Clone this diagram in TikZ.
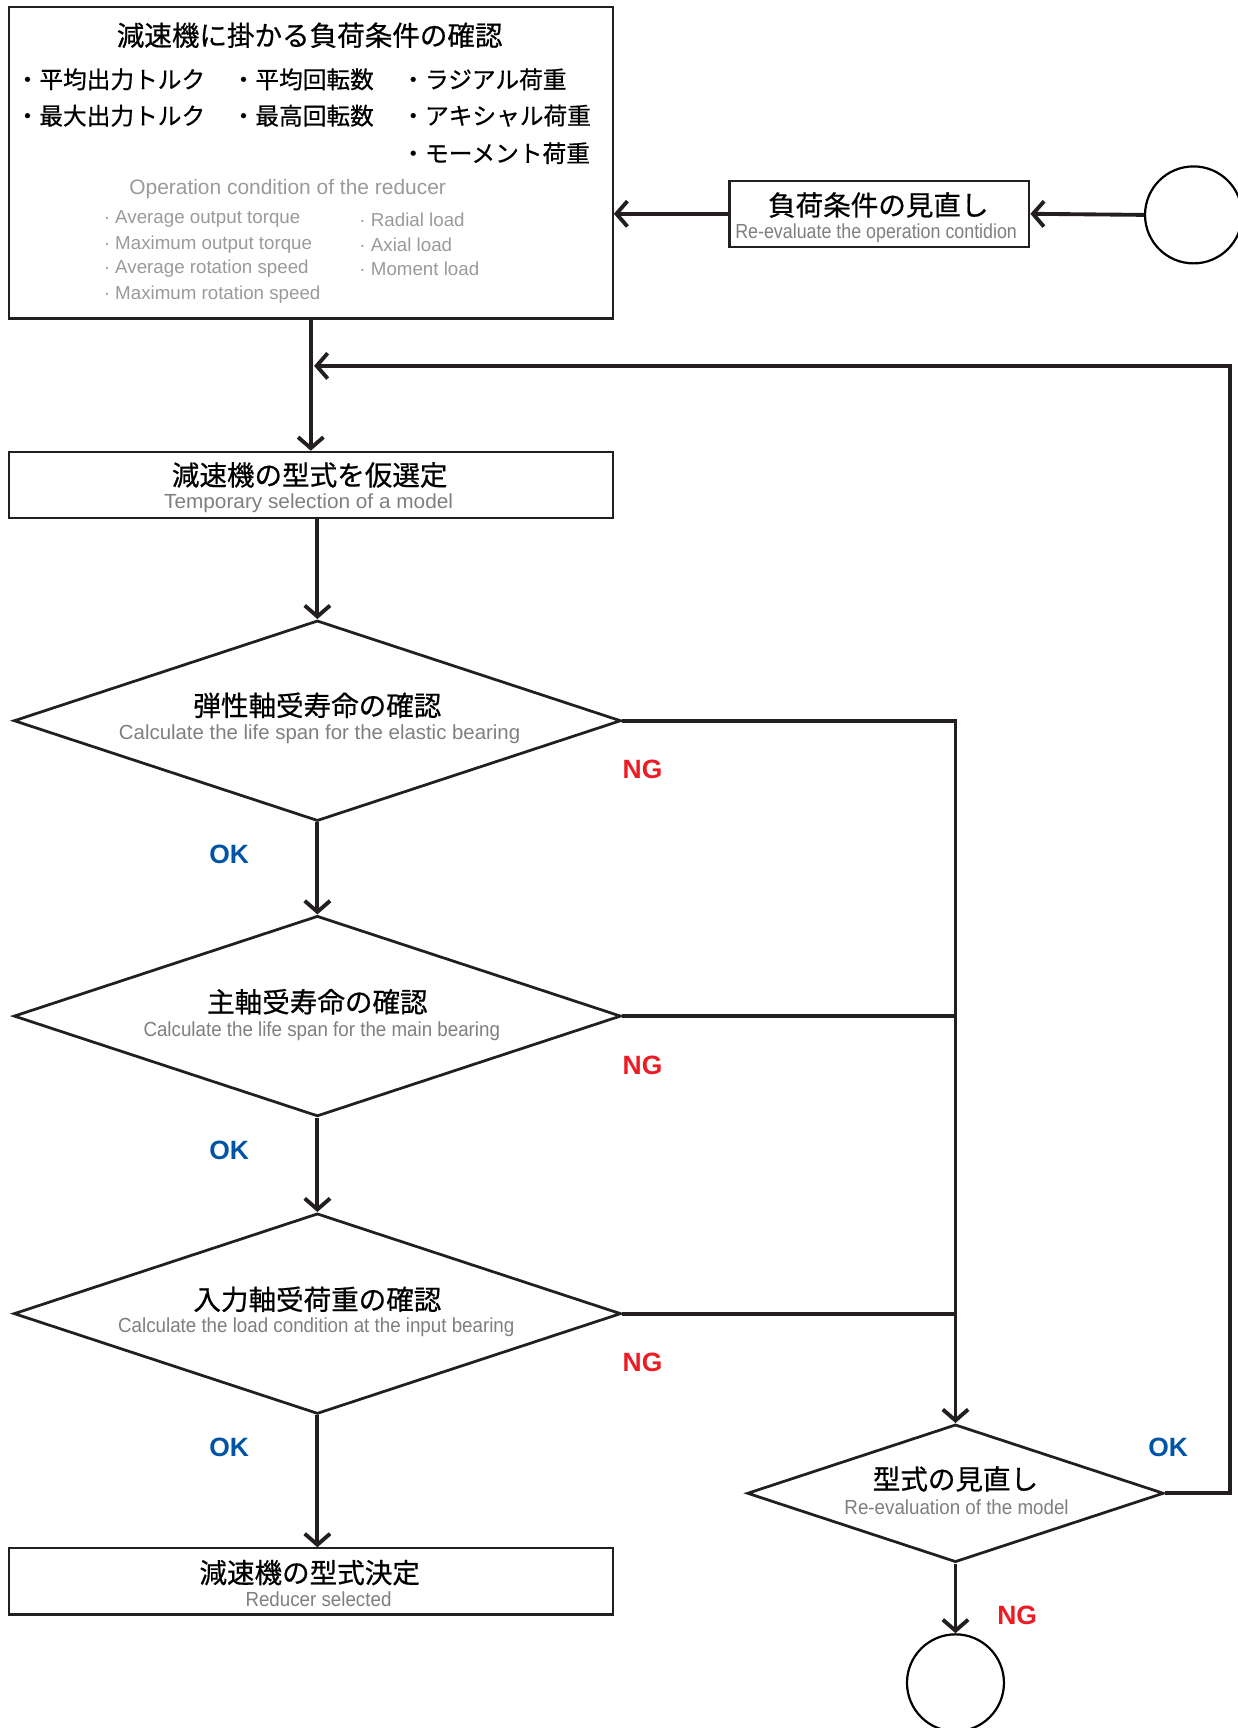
\documentclass[tikz,border=0pt]{standalone}
\usepackage{fontspec}
\usepackage{graphicx}
\setmainfont{Liberation Sans}
\newfontfamily\jp[FakeBold=0.6]{Noto Sans CJK JP}
\usetikzlibrary{shapes.geometric,arrows.meta}
\definecolor{ink}{HTML}{231F20}
\definecolor{subg}{HTML}{7F7F7F}
\definecolor{lite}{HTML}{9A9A9A}
\definecolor{ngred}{HTML}{ED1C24}
\definecolor{okblue}{HTML}{0054A6}
\newcommand{\narrowtxt}[2]{\scalebox{#1}[1]{#2}}
\begin{document}
\begin{tikzpicture}[x=1pt,y=-1pt,
 box/.style={draw=ink, line width=2pt, inner sep=0pt, fill=white},
 dia/.style={diamond, draw=ink, line width=2.5pt, inner sep=0pt, minimum width=551pt, minimum height=182pt},
 ring/.style={circle, draw=black, line width=2pt, minimum size=88pt, inner sep=0pt},
 jt/.style={font=\jp\fontsize{25}{28}\selectfont, text=black, inner sep=0pt},
 jb/.style={font=\jp\fontsize{21.5}{24}\selectfont, text=black, anchor=west, inner sep=0pt},
 et/.style={font=\fontsize{18.5}{20}\selectfont, text=subg, inner sep=0pt},
 eb/.style={font=\fontsize{17}{19}\selectfont, text=lite, anchor=west, inner sep=0pt},
 flow/.style={draw=ink, line width=3.5pt},
 arr/.style={flow, -{Straight Barb[length=10pt,width=23pt]}},
 ng/.style={font=\bfseries\fontsize{24}{26}\selectfont, text=ngred, inner sep=0pt},
 ok/.style={font=\bfseries\fontsize{24}{26}\selectfont, text=okblue, inner sep=0pt},
]
\fill[white] (0,0) rectangle (1122.5,1568);
\useasboundingbox (0,0) rectangle (1122.5,1568);

% top box
\node[box, minimum width=548pt, minimum height=283pt] (top) at (282,147.5) {};
\node[jt] (tt) at (281,32) {減速機に掛かる負荷条件の確認};
\node[jb] (t11) at (14,72) {・平均出力トルク};
\node[jb] (t12) at (210,72) {・平均回転数};
\node[jb] (t13) at (364,72) {・ラジアル荷重};
\node[jb] (t21) at (14,105) {・最大出力トルク};
\node[jb] (t22) at (210,105) {・最高回転数};
\node[jb] (t23) at (364,105) {・アキシャル荷重};
\node[jb] (t33) at (364,139) {・モーメント荷重};
\node[et, text=lite, font=\fontsize{19}{21}\selectfont] (te) at (261,172) {Operation condition of the reducer};
\node[eb] (e1) at (94,199) {· Average output torque};
\node[eb] (e2) at (94,222) {· Maximum output torque};
\node[eb] (e3) at (94,244) {· Average rotation speed};
\node[eb] (e4) at (94,267) {· Maximum rotation speed};
\node[eb] (e5) at (326,199) {· Radial load};
\node[eb] (e6) at (326,222) {· Axial load};
\node[eb] (e7) at (326,244) {· Moment load};

% box 2
\node[box, minimum width=548pt, minimum height=60pt] (b2) at (282,440) {};
\node[jt] (b2j) at (281,431) {減速機の型式を仮選定};
\node[et] (b2e) at (280,457) {\narrowtxt{1.02}{Temporary selection of a model}};

% diamonds
\node[dia] (d1) at (288,654) {};
\node[jt] (d1j) at (288,640) {弾性軸受寿命の確認};
\node[et] (d1e) at (290,666) {\narrowtxt{1.0}{Calculate the life span for the elastic bearing}};

\node[dia] (d2) at (288,922) {};
\node[jt] (d2j) at (288,909) {主軸受寿命の確認};
\node[et] (d2e) at (292,936) {\narrowtxt{0.92}{Calculate the life span for the main bearing}};

\node[dia] (d3) at (288,1192) {};
\node[jt] (d3j) at (288,1179) {入力軸受荷重の確認};
\node[et] (d3e) at (287,1204) {\narrowtxt{0.92}{Calculate the load condition at the input bearing}};

% final box
\node[box, minimum width=548pt, minimum height=60pt] (fin) at (282,1435) {};
\node[jt] (finj) at (281,1427) {減速機の型式決定};
\node[et] (fine) at (289,1451) {\narrowtxt{0.92}{Reducer selected}};

% review model diamond
\node[diamond, draw=ink, line width=2.5pt, inner sep=0pt, minimum width=378pt, minimum height=125pt] (d4) at (867,1355) {};
\node[jt] (d4j) at (867,1342) {型式の見直し};
\node[et] (d4e) at (868,1368) {\narrowtxt{0.92}{Re-evaluation of the model}};

% review condition box
\node[box, minimum width=272pt, minimum height=60pt] (b3) at (798,194) {};
\node[jt] (b3j) at (797,186) {負荷条件の見直し};
\node[et] (b3e) at (795,212) {\narrowtxt{0.875}{Re-evaluate the operation contidion}};

% circles
\node[ring] (c1) at (1083,195) {};
\node[ring] (c2) at (867,1527) {};

% connectors
\draw[arr] (top.south) -- (b2.north);
\draw[arr] (b2.south -| d1.north) -- (d1.north);
\draw[arr] (d1.south) -- (d2.north);
\draw[arr] (d2.south) -- (d3.north);
\draw[arr] (d3.south) -- (d3.south |- fin.north);
\draw[arr] (d1.east) -| (d4.north);
\draw[flow] (d2.east) -- (d2.east -| d4.north);
\draw[flow] (d3.east) -- (d3.east -| d4.north);
\coordinate (okc) at (1116,332);
\draw[arr] (d4.east) -| (okc) -- ([xshift=3pt]okc -| top.south);
\draw[arr] (d4.south) -- (c2.north);
\draw[arr] (c1.west) -- (b3.east);
\draw[arr] (b3.west) -- (b3.west -| top.east);

% labels
\node[ng] (ng1) at (583,698) {NG};
\node[ng] (ng2) at (583,967) {NG};
\node[ng] (ng3) at (583,1236) {NG};
\node[ng] (ng4) at (923,1466) {NG};
\node[ok] (ok1) at (208,775) {OK};
\node[ok] (ok2) at (208,1044) {OK};
\node[ok] (ok3) at (208,1313) {OK};
\node[ok] (ok4) at (1060,1313) {OK};
\end{tikzpicture}
\end{document}
